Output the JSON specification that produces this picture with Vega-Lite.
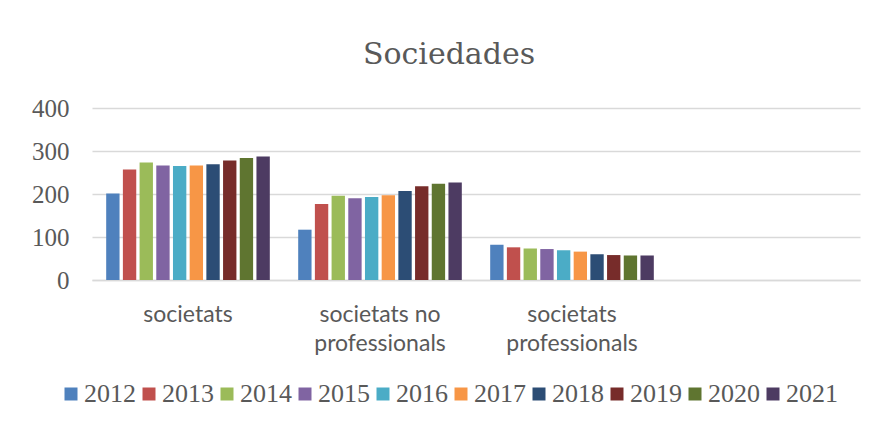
{
  "$schema": "https://vega.github.io/schema/vega-lite/v6.json",
  "autosize": {"type": "none"},
  "width": 768,
  "height": 172,
  "padding": {"left": 92, "top": 108, "right": 14, "bottom": 143},
  "background": "white",
  "title": {
    "text": "Sociedades",
    "font": "DejaVu Serif",
    "fontSize": 30,
    "fontWeight": "normal",
    "color": "#595959",
    "anchor": "middle",
    "baseline": "alphabetic",
    "offset": 2,
    "dx": -27
  },
  "data": {
    "values": [
      {"cat": "societats", "year": "2012", "value": 201},
      {"cat": "societats", "year": "2013", "value": 257},
      {"cat": "societats", "year": "2014", "value": 273},
      {"cat": "societats", "year": "2015", "value": 266},
      {"cat": "societats", "year": "2016", "value": 265},
      {"cat": "societats", "year": "2017", "value": 266},
      {"cat": "societats", "year": "2018", "value": 269},
      {"cat": "societats", "year": "2019", "value": 278},
      {"cat": "societats", "year": "2020", "value": 284},
      {"cat": "societats", "year": "2021", "value": 287},
      {"cat": "societats no|professionals", "year": "2012", "value": 117},
      {"cat": "societats no|professionals", "year": "2013", "value": 177},
      {"cat": "societats no|professionals", "year": "2014", "value": 196},
      {"cat": "societats no|professionals", "year": "2015", "value": 190},
      {"cat": "societats no|professionals", "year": "2016", "value": 193},
      {"cat": "societats no|professionals", "year": "2017", "value": 197},
      {"cat": "societats no|professionals", "year": "2018", "value": 207},
      {"cat": "societats no|professionals", "year": "2019", "value": 218},
      {"cat": "societats no|professionals", "year": "2020", "value": 224},
      {"cat": "societats no|professionals", "year": "2021", "value": 227},
      {"cat": "societats|professionals", "year": "2012", "value": 82},
      {"cat": "societats|professionals", "year": "2013", "value": 76},
      {"cat": "societats|professionals", "year": "2014", "value": 73},
      {"cat": "societats|professionals", "year": "2015", "value": 72},
      {"cat": "societats|professionals", "year": "2016", "value": 69},
      {"cat": "societats|professionals", "year": "2017", "value": 66},
      {"cat": "societats|professionals", "year": "2018", "value": 60},
      {"cat": "societats|professionals", "year": "2019", "value": 58},
      {"cat": "societats|professionals", "year": "2020", "value": 57},
      {"cat": "societats|professionals", "year": "2021", "value": 57}
    ]
  },
  "mark": {"type": "bar"},
  "encoding": {
    "x": {
      "field": "cat",
      "type": "nominal",
      "sort": null,
      "scale": {
        "domain": ["societats", "societats no|professionals", "societats|professionals", "_"],
        "paddingInner": 0,
        "paddingOuter": 0
      },
      "axis": {
        "title": null,
        "labelAngle": 0,
        "labelExpr": "datum.label == '_' ? '' : split(datum.label, '|')",
        "labelFont": "Lato",
        "labelFontSize": 23,
        "labelColor": "#595959",
        "labelLineHeight": 29,
        "labelPadding": 23,
        "ticks": false,
        "domainColor": "#d9d9d9",
        "domainWidth": 1.5,
        "grid": false
      }
    },
    "xOffset": {
      "field": "year",
      "type": "nominal",
      "scale": {"paddingInner": 0.2, "paddingOuter": 0.85}
    },
    "y": {
      "field": "value",
      "type": "quantitative",
      "scale": {"domain": [0, 400], "nice": false},
      "axis": {
        "title": null,
        "values": [0, 100, 200, 300, 400],
        "labelFont": "Liberation Serif",
        "labelFontSize": 25,
        "labelColor": "#595959",
        "labelPadding": 23,
        "ticks": false,
        "domain": false,
        "gridColor": "#d9d9d9",
        "gridWidth": 1.5
      }
    },
    "color": {
      "field": "year",
      "type": "nominal",
      "scale": {
        "domain": ["2012", "2013", "2014", "2015", "2016", "2017", "2018", "2019", "2020", "2021"],
        "range": ["#4F81BD", "#C0504D", "#9BBB59", "#8064A2", "#4BACC6", "#F79646", "#2C4D75", "#772C2A", "#5F7530", "#4D3B62"]
      },
      "legend": {
        "title": null,
        "orient": "none",
        "direction": "horizontal",
        "legendX": -34,
        "legendY": 273,
        "padding": 0,
        "symbolType": "square",
        "symbolSize": 169,
        "symbolStrokeWidth": 0,
        "symbolOffset": 0,
        "labelOffset": 0,
        "columnPadding": -2,
        "labelFont": "Liberation Serif",
        "labelFontSize": 26,
        "labelColor": "#595959",
        "labelLimit": 0
      }
    }
  },
  "config": {
    "view": {"stroke": null}
  }
}
